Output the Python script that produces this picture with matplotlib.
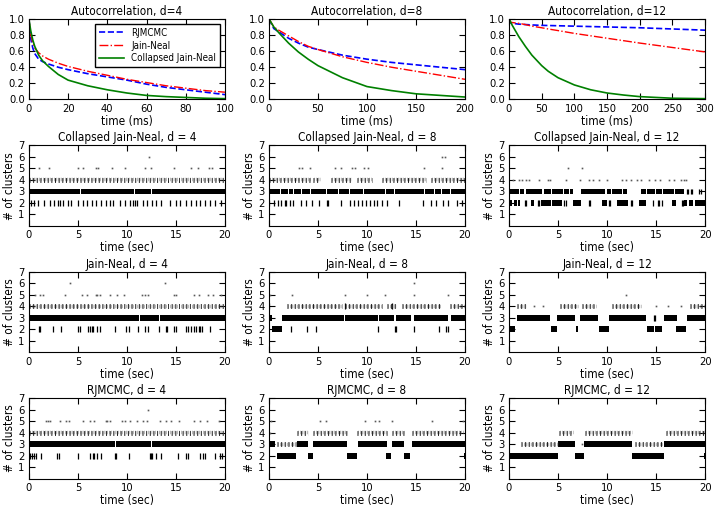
import matplotlib
matplotlib.use("Agg")
import matplotlib.pyplot as plt
from matplotlib import font_manager

# ---- autocorrelation curves (lag in ms, value) ----
ac_lag_4 = [0, 1, 2, 3, 5, 7, 10, 15, 20, 30, 40, 50, 60, 70, 80, 90, 100]
ac_rj_4 = [1.0, 0.75, 0.64, 0.57, 0.50, 0.47, 0.44, 0.40, 0.37, 0.32, 0.28, 0.24, 0.19, 0.15, 0.12, 0.09, 0.06]
ac_jn_4 = [1.0, 0.80, 0.70, 0.64, 0.58, 0.54, 0.50, 0.45, 0.41, 0.35, 0.30, 0.25, 0.21, 0.17, 0.14, 0.11, 0.09]
ac_cjn_4 = [1.0, 0.85, 0.74, 0.66, 0.55, 0.48, 0.41, 0.31, 0.24, 0.17, 0.12, 0.08, 0.05, 0.035, 0.025, 0.015, 0.01]

ac_lag_8 = [0, 5, 10, 20, 30, 40, 50, 75, 100, 125, 150, 175, 200]
ac_rj_8 = [1.0, 0.88, 0.84, 0.76, 0.70, 0.65, 0.62, 0.55, 0.50, 0.46, 0.43, 0.40, 0.37]
ac_jn_8 = [1.0, 0.90, 0.86, 0.79, 0.72, 0.66, 0.62, 0.53, 0.46, 0.40, 0.35, 0.30, 0.25]
ac_cjn_8 = [1.0, 0.90, 0.83, 0.70, 0.59, 0.50, 0.42, 0.27, 0.16, 0.11, 0.07, 0.05, 0.03]

ac_lag_12 = [0, 2, 5, 10, 15, 25, 35, 50, 60, 75, 100, 125, 150, 175, 200, 250, 300]
ac_rj_12 = [1.0, 0.95, 0.945, 0.94, 0.935, 0.93, 0.925, 0.92, 0.918, 0.915, 0.91, 0.905, 0.90, 0.895, 0.89, 0.875, 0.86]
ac_jn_12 = [1.0, 0.96, 0.955, 0.95, 0.945, 0.93, 0.91, 0.89, 0.875, 0.855, 0.82, 0.79, 0.76, 0.73, 0.70, 0.645, 0.59]
ac_cjn_12 = [1.0, 0.97, 0.92, 0.85, 0.78, 0.66, 0.55, 0.42, 0.35, 0.27, 0.18, 0.12, 0.08, 0.055, 0.035, 0.015, 0.01]

ac_lags = [ac_lag_4, ac_lag_8, ac_lag_12]
ac_rj = [ac_rj_4, ac_rj_8, ac_rj_12]
ac_jn = [ac_jn_4, ac_jn_8, ac_jn_12]
ac_cjn = [ac_cjn_4, ac_cjn_8, ac_cjn_12]
ac_xmax = [100, 200, 300]
ac_xticks = [[0, 20, 40, 60, 80, 100], [0, 50, 100, 150, 200], [0, 50, 100, 150, 200, 250, 300]]
dims = [4, 8, 12]
samplers = ["Collapsed Jain-Neal", "Jain-Neal", "RJMCMC"]

# ---- cluster-count traces ----
# dense: {level: [(start, end), ...]}  solid runs of samples
# ticks: {level: [t, ...]}             isolated short visits
# band:  {level: [(start, end), ...]}  frequent but broken visits
# dots:  {level: [t, ...]}             rare visits
cjn4_dense = {3: [(0, 5.25), (5.35, 10.75), (10.85, 12.45), (12.55, 20)]}
cjn4_ticks = {2: [0.2, 0.5, 0.9, 1.5, 2.2, 2.6, 3.0, 3.2, 3.5, 4.0, 4.3, 5.0, 5.5, 5.9, 6.4,
                  6.8, 7.4, 7.9, 8.3, 8.6, 9.3, 9.8, 10.3, 10.6, 10.8, 11.0, 11.6, 12.0, 12.6,
                  13.0, 13.5, 14.4, 15.0, 15.4, 16.0, 16.5, 17.0, 17.5, 18.0, 18.5, 19.0, 19.6]}
cjn4_band = {4: [(0, 20)]}
cjn4_dots = {5: [1.0, 2.1, 5.0, 5.5, 6.8, 7.1, 8.5, 9.8, 11.8, 12.5, 14.8, 16.5, 17.2, 18.4, 18.7],
             6: [12.3]}

cjn8_dense = {3: [(0, 0.6), (0.65, 1.1), (1.2, 1.9), (2.0, 2.5), (2.6, 3.3), (3.4, 4.2), (4.3, 5.8),
                  (5.9, 7.0), (7.1, 8.2), (8.3, 9.6), (9.7, 11.8), (11.9, 12.8), (12.9, 15.8),
                  (15.9, 16.8), (16.9, 17.5), (17.6, 18.5), (18.6, 20)]}
cjn8_ticks = {2: [0.0, 0.5, 0.9, 1.2, 1.6, 1.7, 2.1, 2.5, 3.3, 3.8, 4.4, 5.1, 5.9, 6.0, 7.4, 8.3,
                  8.7, 9.1, 9.5, 9.9, 10.3, 10.7, 11.0, 11.5, 12.0, 13.3, 15.7, 16.5, 17.0, 17.7,
                  18.3, 19.2, 19.7]}
cjn8_band = {4: [(0, 3.0), (3.0, 4.3), (4.5, 5.2), (6.3, 8.5), (9.0, 10.5), (11.5, 16.0), (16.5, 20)]}
cjn8_dots = {5: [3.1, 3.4, 4.2, 6.7, 7.3, 8.5, 8.8, 9.7, 10.1, 15.8, 17.6], 6: [17.6, 18.0]}

cjn12_dense = {3: [(0, 0.3), (0.35, 1.0), (1.1, 1.5), (1.7, 2.5), (2.6, 3.4), (3.6, 4.3), (4.4, 5.5),
                   (5.6, 6.1), (6.2, 6.5), (7.3, 9.8), (10.0, 10.4), (10.5, 11.5), (11.6, 12.0),
                   (13.5, 14.0), (14.1, 14.9), (15.0, 15.6), (15.7, 16.8), (16.9, 17.8)],
               2: [(0.1, 0.3), (0.5, 0.8), (0.9, 1.1), (2.2, 2.6), (3.3, 4.3), (4.4, 5.4), (6.5, 7.3),
                   (9.5, 10.0), (11.0, 12.1), (13.3, 14.0), (16.6, 17.0), (17.8, 18.2),
                   (18.4, 18.8), (19.0, 20)]}
cjn12_ticks = {3: [18.2, 18.3, 18.6, 18.7, 19.4, 19.6],
               2: [1.6, 1.7, 3.0, 3.1, 5.6, 5.8, 8.2, 8.3, 10.2, 10.3, 12.4, 12.5, 14.7, 15.2,
                   15.3, 15.6, 17.6, 17.7]}
cjn12_band = {}
cjn12_dots = {4: [0.4, 1.0, 1.3, 1.7, 2.0, 3.1, 4.0, 4.2, 5.8, 7.2, 8.2, 8.6, 9.2, 10.0, 11.5,
                  11.9, 12.4, 13.1, 13.5, 14.3, 14.9, 15.4, 16.3, 16.8, 17.5, 17.8, 18.0],
              5: [6.0, 7.4]}

jn4_dense = {3: [(0, 11.25), (11.35, 13.25), (13.35, 20)]}
jn4_ticks = {2: [1.0, 1.1, 2.5, 3.3, 5.0, 5.2, 6.0, 6.2, 6.4, 6.5, 6.9, 7.3, 8.8, 9.9, 10.2, 11.1,
                 11.8, 12.2, 13.3, 14.0, 14.1, 14.8, 15.0, 16.0, 16.2, 16.5, 16.8, 17.0, 17.3,
                 17.5, 17.7, 18.5]}
jn4_band = {4: [(0, 20)]}
jn4_dots = {5: [0.6, 1.1, 1.4, 3.7, 5.4, 5.9, 6.8, 7.0, 7.3, 8.3, 9.0, 9.7, 11.5, 11.8, 12.2,
                14.8, 15.0, 16.8, 17.3, 18.3, 18.8, 19.6], 6: [4.2, 13.9]}

jn8_dense = {3: [(0, 0.3), (1.3, 7.7), (7.8, 11.1), (11.2, 12.8), (13.0, 14.5), (14.8, 18.3), (18.6, 20)],
             2: [(0.0, 0.1), (0.3, 1.3)]}
jn8_ticks = {2: [2.3, 3.9, 4.8, 11.1, 12.9, 13.0, 14.8, 17.3, 18.1, 18.3],
             4: [0.0, 7.8, 12.5]}
jn8_band = {4: [(1.8, 7.5), (7.8, 11.5), (12.0, 13.0), (13.6, 17.5), (18.5, 20)]}
jn8_dots = {5: [0.1, 2.4, 7.8, 10.0, 11.8, 14.8, 18.3], 6: [14.8]}

jn12_dense = {3: [(0.8, 4.2), (4.9, 6.7), (7.2, 9.1), (10.2, 14.0), (15.8, 17.1), (18.1, 20)],
              2: [(0, 0.6), (4.3, 4.9), (6.8, 7.0), (9.2, 10.2), (14.1, 14.8), (14.9, 15.6), (17.0, 18.0)]}
jn12_ticks = {3: [14.8, 14.9]}
jn12_band = {4: [(0.8, 1.8), (5.2, 7.0), (7.4, 8.9), (10.5, 13.5), (18.5, 20)]}
jn12_dots = {4: [2.5, 3.5, 15.0, 16.2, 17.5], 5: [11.9]}

rj4_dense = {3: [(0, 8.75), (8.85, 12.45), (12.55, 20)]}
rj4_ticks = {2: [0.1, 0.3, 0.5, 0.7, 1.2, 2.9, 3.1, 5.0, 6.2, 6.5, 6.6, 7.0, 7.4, 8.8, 8.9, 10.2,
                 12.4, 12.5, 12.6, 13.0, 13.5, 15.2, 16.0, 16.2, 17.5, 17.8, 18.0, 19.0, 19.5, 19.7]}
rj4_band = {4: [(0, 20)]}
rj4_dots = {5: [1.8, 2.0, 2.2, 3.2, 3.8, 4.1, 5.5, 6.2, 6.6, 7.9, 8.0, 8.3, 9.5, 9.8, 10.3, 11.0,
                11.6, 12.0, 13.4, 14.0, 14.5, 15.3, 16.8, 17.5, 18.2, 19.4], 6: [12.2]}

rj8_dense = {3: [(0.1, 0.6), (2.9, 4.0), (4.5, 8.0), (9.1, 12.0), (12.5, 13.8), (14.6, 20)],
             2: [(0, 0.1), (0.8, 2.8), (4.0, 4.5), (8.0, 9.0), (11.9, 12.4), (13.8, 14.4), (19.9, 20)]}
rj8_ticks = {}
rj8_band = {4: [(2.9, 4.0), (4.5, 8.0), (9.0, 12.0), (12.5, 13.8), (14.6, 19.8)],
            3: [(0.8, 2.8)]}
rj8_dots = {4: [0.0, 0.1], 5: [0.2, 5.2, 5.8, 9.8, 10.8, 11.2, 12.5, 16.6, 19.8]}

rj12_dense = {2: [(0, 5.0), (6.7, 7.6), (12.5, 15.8), (19.9, 20)],
              3: [(5.0, 6.7), (7.6, 12.5), (15.8, 20)]}
rj12_ticks = {}
rj12_band = {3: [(1.2, 5.0), (12.8, 15.6)],
             4: [(5.1, 6.5), (7.8, 12.5), (16.0, 20)]}
rj12_dots = {3: [7.4]}

traces = [
    [(cjn4_dense, cjn4_ticks, cjn4_band, cjn4_dots),
     (cjn8_dense, cjn8_ticks, cjn8_band, cjn8_dots),
     (cjn12_dense, cjn12_ticks, cjn12_band, cjn12_dots)],
    [(jn4_dense, jn4_ticks, jn4_band, jn4_dots),
     (jn8_dense, jn8_ticks, jn8_band, jn8_dots),
     (jn12_dense, jn12_ticks, jn12_band, jn12_dots)],
    [(rj4_dense, rj4_ticks, rj4_band, rj4_dots),
     (rj8_dense, rj8_ticks, rj8_band, rj8_dots),
     (rj12_dense, rj12_ticks, rj12_band, rj12_dots)],
]

# the reference text is narrow: prefer a condensed face if one is installed
fonts = font_manager.fontManager.ttflist
if any(f.name == "DejaVu Sans" and f.stretch == "condensed" for f in fonts):
    font = {"family": "DejaVu Sans", "stretch": "condensed"}
    label_size, tick_size, legend_size = 8.5, 8, 7
elif any(f.name == "Liberation Sans Narrow" for f in fonts):
    font = {"family": "Liberation Sans Narrow", "stretch": "normal"}
    label_size, tick_size, legend_size = 10, 9.5, 8
else:
    font = {"family": "DejaVu Sans", "stretch": "normal"}
    label_size, tick_size, legend_size = 7.5, 7, 6.5

plt.rcParams.update({
    "font.family": font["family"],
    "font.stretch": font["stretch"],
    "font.size": tick_size,
    "xtick.direction": "in",
    "ytick.direction": "in",
    "xtick.top": True,
    "ytick.right": True,
    "xtick.major.size": 4,
    "ytick.major.size": 4,
    "xtick.major.pad": 3,
    "ytick.major.pad": 3,
    "axes.linewidth": 0.8,
})

fig, axes = plt.subplots(4, 3, figsize=(7.21, 5.11), dpi=100)
fig.subplots_adjust(left=0.040, right=0.978, top=0.963, bottom=0.063, wspace=0.224, hspace=0.57)

# Autocorrelation row
for j in range(3):
    ax = axes[0, j]
    ax.plot(ac_lags[j], ac_rj[j], color="blue", linestyle="--", lw=1.2, label="RJMCMC")
    ax.plot(ac_lags[j], ac_jn[j], color="red", linestyle="-.", lw=1.0, label="Jain-Neal")
    ax.plot(ac_lags[j], ac_cjn[j], color="green", linestyle="-", lw=1.2, label="Collapsed Jain-Neal")
    ax.set_xlim(0, ac_xmax[j])
    ax.set_ylim(0, 1)
    ax.set_xticks(ac_xticks[j])
    ax.set_yticks([0.0, 0.2, 0.4, 0.6, 0.8, 1.0])
    ax.set_title(f"Autocorrelation, d={dims[j]}", fontsize=label_size, pad=3)
    ax.set_xlabel("time (ms)", fontsize=label_size, labelpad=1)
    if j == 0:
        ax.legend(loc="upper right", fontsize=legend_size, fancybox=False, edgecolor="black",
                  framealpha=1, borderpad=0.4, labelspacing=0.3, handlelength=2.5)

# Trace rows
for i in range(3):
    for j in range(3):
        ax = axes[i + 1, j]
        dense, ticks, band, dots = traces[i][j]
        for level, runs in dense.items():
            ax.broken_barh([(a, b - a) for a, b in runs], (level - 0.25, 0.5),
                           facecolors="black", edgecolor="none")
        for level, ts in ticks.items():
            ax.vlines(ts, level - 0.25, level + 0.25, color="black", lw=0.9)
        for level, runs in band.items():
            for a, b in runs:
                # two overlapping dash patterns give an uneven, speckled texture
                ax.plot([a, b], [level, level], color="0.1", lw=3.5,
                        linestyle=(0, (0.2, 0.55)), dash_capstyle="butt")
                ax.plot([a, b], [level + 0.05, level + 0.05], color="0.35", lw=2.5,
                        linestyle=(0.3, (0.12, 0.41)), dash_capstyle="butt")
        for level, ts in dots.items():
            ax.plot(ts, [level] * len(ts), linestyle="none", marker="s", ms=1.2,
                    color="0.35", mec="none")
        ax.set_xlim(0, 20)
        ax.set_ylim(0, 7)
        ax.set_xticks([0, 5, 10, 15, 20])
        ax.set_yticks([1, 2, 3, 4, 5, 6, 7])
        ax.set_title(f"{samplers[i]}, d = {dims[j]}", fontsize=label_size, pad=3)
        ax.set_xlabel("time (sec)", fontsize=label_size, labelpad=1)
        ax.set_ylabel("# of clusters", fontsize=label_size, labelpad=2)

fig.savefig("out.png", dpi=100)
